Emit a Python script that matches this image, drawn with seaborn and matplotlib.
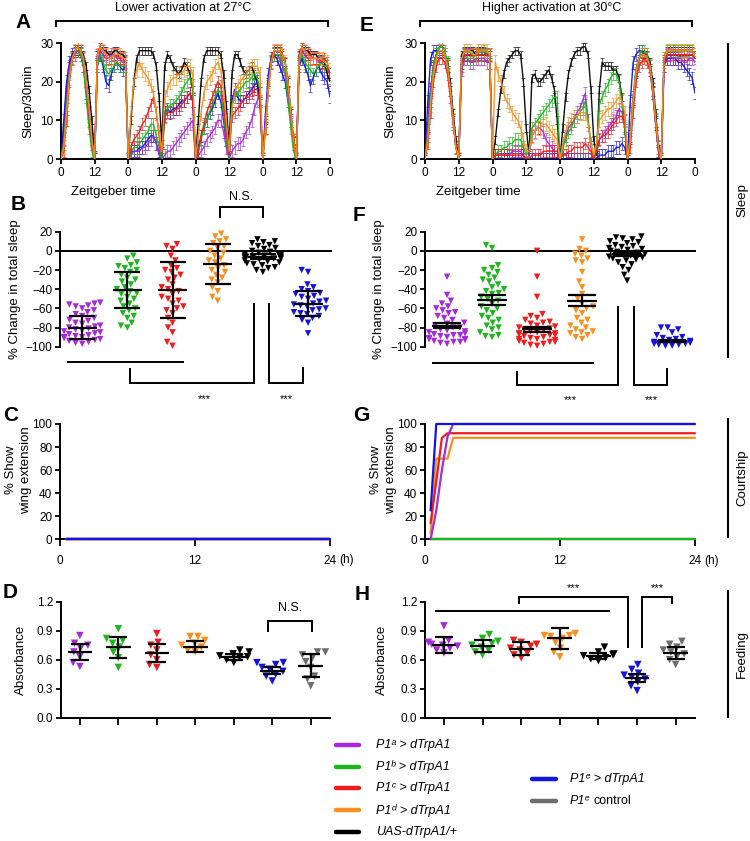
import matplotlib
matplotlib.use("Agg")
import numpy as np
import pandas as pd
import matplotlib.pyplot as plt
import seaborn as sns

# ------------------------------------------------------------------ data
GENOS = ["P1a", "P1b", "P1c", "P1d", "UAS", "P1e"]
FEED_GROUPS = ["P1a", "P1b", "P1c", "P1d", "UAS", "P1e", "ctrl"]
COLORS = {"P1a": "#A52ADC", "P1b": "#1FB51F", "P1c": "#EE1C1C", "P1d": "#F7901E",
          "UAS": "#000000", "P1e": "#1414DC", "ctrl": "#6D6D6D"}
DRAW_ORDER = ["UAS", "P1e", "P1a", "P1b", "P1c", "P1d"]

HOURS = list(range(97))
ZT_TICKS = [0, 12, 24, 36, 48, 60, 72, 84, 96]
ZT_LABELS = ["0", "12", "0", "12", "0", "12", "0", "12", "0"]

# Panel A: sleep per 30 min at 27 C (hourly readings)
A_UAS = [0, 8, 18, 24, 27, 28, 28, 28, 27, 24, 18, 10, 1, 27, 29, 28, 28, 27, 27, 28, 28, 27, 27, 26,
         0, 10, 20, 26, 28, 28, 28, 28, 28, 27, 24, 16, 4, 24, 27, 26, 24, 23, 22, 23, 25, 24, 22, 18,
         0, 10, 20, 26, 28, 28, 28, 28, 28, 27, 22, 14, 3, 22, 27, 27, 25, 23, 22, 23, 24, 22, 20, 15,
         0, 10, 20, 26, 28, 28, 28, 27, 25, 20, 12, 5, 0, 27, 29, 28, 28, 27, 27, 27, 26, 26, 25, 22, 20]
A_P1d = [0, 3, 12, 21, 26, 28, 29, 28, 26, 20, 13, 5, 0, 27, 29, 28, 27, 26, 26, 27, 27, 27, 26, 26,
         0, 12, 20, 23, 25, 23, 22, 21, 19, 17, 12, 7, 2, 16, 18, 20, 21, 21, 22, 22, 23, 24, 24, 22,
         0, 6, 12, 17, 20, 21, 22, 24, 25, 23, 18, 10, 2, 13, 17, 19, 20, 21, 22, 23, 24, 24, 24, 22,
         0, 8, 18, 25, 28, 28, 28, 27, 25, 20, 12, 5, 0, 26, 29, 28, 27, 26, 26, 26, 26, 26, 25, 25, 23]
A_P1c = [0, 2, 10, 20, 26, 28, 29, 28, 26, 20, 12, 5, 0, 27, 29, 28, 27, 26, 26, 27, 27, 26, 26, 25,
         0, 3, 5, 6, 7, 9, 10, 12, 14, 16, 12, 6, 1, 11, 12, 12, 12, 13, 13, 14, 15, 16, 17, 15,
         0, 2, 6, 9, 12, 14, 16, 18, 20, 19, 14, 7, 1, 11, 12, 13, 14, 15, 16, 16, 17, 18, 18, 15,
         0, 8, 18, 25, 28, 28, 28, 27, 25, 20, 12, 5, 0, 27, 29, 28, 27, 27, 26, 26, 26, 25, 26, 25, 21]
A_P1b = [0, 4, 14, 22, 26, 28, 28, 27, 24, 16, 8, 2, 0, 24, 27, 25, 23, 22, 23, 24, 25, 24, 24, 24,
         0, 2, 3, 3, 4, 5, 6, 7, 9, 9, 6, 3, 0, 11, 13, 14, 14, 15, 16, 17, 19, 20, 21, 19,
         0, 2, 5, 8, 10, 12, 14, 16, 18, 17, 12, 5, 0, 14, 16, 17, 18, 19, 20, 20, 21, 22, 21, 18,
         0, 8, 18, 25, 27, 27, 27, 25, 22, 15, 8, 2, 0, 25, 27, 25, 24, 23, 22, 23, 24, 25, 24, 24, 22]
A_P1e = [0, 10, 20, 25, 27, 28, 28, 27, 24, 17, 10, 4, 0, 24, 27, 24, 20, 19, 22, 24, 25, 24, 23, 24,
         0, 2, 2, 2, 3, 3, 4, 5, 6, 6, 4, 2, 0, 12, 13, 12, 13, 13, 14, 15, 15, 16, 17, 15,
         0, 3, 6, 8, 10, 12, 13, 15, 17, 15, 10, 5, 0, 15, 18, 16, 15, 15, 16, 17, 18, 19, 20, 17,
         0, 12, 22, 26, 27, 26, 24, 22, 20, 15, 10, 4, 0, 24, 26, 24, 22, 19, 21, 23, 24, 22, 21, 20, 16]
A_P1a = [0, 5, 16, 24, 26, 27, 28, 28, 26, 20, 12, 5, 0, 25, 28, 27, 26, 26, 27, 27, 26, 26, 25, 25,
         0, 1, 2, 2, 2, 3, 3, 4, 5, 6, 4, 1, 0, 1, 2, 2, 3, 4, 5, 6, 7, 8, 9, 10,
         0, 1, 2, 3, 5, 6, 7, 8, 10, 10, 7, 3, 0, 2, 3, 4, 4, 5, 7, 8, 10, 13, 15, 17,
         0, 10, 20, 25, 27, 27, 26, 24, 22, 17, 10, 4, 0, 26, 28, 27, 26, 26, 26, 26, 25, 25, 24, 24, 22]

# Panel E: sleep per 30 min at 30 C
E_UAS = [0, 8, 18, 24, 27, 28, 28, 27, 25, 20, 12, 5, 0, 27, 28, 28, 28, 28, 27, 28, 28, 28, 27, 27,
         0, 5, 12, 18, 22, 25, 26, 27, 28, 28, 27, 20, 8, 1, 21, 22, 20, 20, 21, 22, 23, 21, 18, 10,
         0, 8, 16, 22, 25, 27, 28, 28, 29, 29, 27, 18, 5, 1, 18, 25, 24, 24, 24, 23, 23, 21, 16, 8,
         0, 5, 15, 22, 26, 27, 27, 27, 25, 20, 12, 4, 0, 26, 28, 28, 28, 28, 28, 28, 28, 28, 28, 28, 27]
E_P1d = [0, 5, 14, 22, 26, 28, 28, 27, 24, 18, 10, 3, 0, 26, 28, 28, 28, 27, 27, 28, 28, 28, 28, 27,
         0, 25, 22, 20, 17, 15, 14, 12, 11, 10, 8, 5, 2, 2, 6, 7, 8, 8, 9, 9, 8, 7, 6, 5,
         0, 4, 7, 9, 10, 11, 11, 12, 12, 12, 9, 4, 1, 4, 10, 11, 12, 13, 13, 14, 15, 16, 15, 12,
         0, 5, 15, 22, 26, 27, 27, 26, 24, 18, 10, 3, 0, 26, 28, 28, 28, 28, 28, 28, 28, 28, 28, 28, 27]
E_P1c = [0, 4, 12, 20, 24, 26, 26, 25, 22, 16, 9, 3, 0, 24, 27, 27, 27, 27, 27, 27, 27, 27, 27, 27,
         0, 1, 1, 1, 1, 1, 1, 1, 1, 1, 1, 1, 0, 0, 1, 1, 1, 1, 2, 2, 2, 2, 2, 2,
         0, 1, 1, 2, 2, 3, 3, 3, 3, 4, 3, 2, 0, 2, 5, 6, 6, 7, 8, 9, 10, 11, 11, 10,
         0, 3, 12, 20, 24, 25, 26, 25, 23, 17, 9, 2, 0, 25, 27, 27, 27, 27, 27, 27, 27, 27, 27, 27, 26]
E_P1b = [0, 6, 16, 24, 27, 29, 29, 28, 25, 18, 10, 3, 0, 25, 27, 26, 26, 26, 27, 27, 27, 28, 27, 27,
         0, 1, 2, 2, 3, 3, 4, 4, 5, 5, 5, 3, 1, 2, 8, 9, 10, 11, 12, 13, 14, 15, 16, 16,
         0, 3, 5, 7, 8, 10, 11, 12, 13, 15, 10, 4, 0, 3, 14, 16, 18, 19, 21, 22, 22, 20, 15, 8,
         0, 6, 16, 23, 26, 28, 28, 27, 24, 18, 10, 3, 0, 26, 28, 28, 28, 28, 28, 28, 28, 28, 28, 28, 27]
E_P1e = [0, 15, 26, 28, 28, 28, 28, 27, 24, 18, 10, 3, 0, 25, 27, 27, 27, 27, 27, 27, 27, 27, 27, 27,
         0, 0, 0, 0, 0, 0, 0, 0, 0, 0, 0, 0, 0, 0, 0, 0, 0, 0, 0, 0, 0, 0, 0, 0,
         0, 0, 0, 0, 0, 0, 0, 0, 0, 0, 0, 0, 0, 0, 1, 1, 1, 2, 2, 2, 3, 3, 4, 3,
         0, 15, 25, 27, 28, 28, 27, 26, 23, 17, 9, 2, 0, 24, 26, 26, 26, 26, 25, 25, 24, 23, 22, 21, 17]
E_P1a = [0, 8, 18, 24, 27, 28, 28, 27, 24, 18, 10, 3, 0, 23, 26, 26, 25, 25, 26, 26, 26, 26, 25, 25,
         0, 1, 1, 1, 1, 1, 1, 2, 2, 2, 2, 1, 0, 1, 6, 7, 8, 8, 7, 5, 4, 3, 2, 2,
         0, 3, 6, 8, 9, 10, 12, 13, 15, 17, 10, 3, 0, 2, 5, 6, 7, 8, 9, 10, 11, 13, 12, 10,
         0, 6, 16, 23, 26, 27, 27, 26, 24, 18, 10, 3, 0, 24, 27, 27, 26, 26, 26, 26, 25, 25, 26, 26, 25]

SLEEP_SEM = {"UAS": 1.0, "P1a": 1.6, "P1b": 1.6, "P1c": 1.5, "P1d": 1.8, "P1e": 1.6}

# Panels B / F: % change in total sleep (individual flies)
B_P1a = [-54, -55, -56, -57, -58, -60, -62, -64, -66, -68, -70, -72, -73, -75, -76, -78, -79, -80,
         -81, -82, -83, -84, -85, -86, -87, -88, -89, -90, -90, -91, -92, -93, -94, -95, -96, -97]
B_P1b = [-5, -8, -12, -15, -16, -18, -20, -22, -25, -28, -30, -32, -35, -38, -40, -42, -44, -45,
         -48, -50, -52, -55, -58, -60, -62, -65, -68, -70, -75, -78, -80]
B_P1c = [7, 5, 2, -5, -10, -15, -18, -20, -22, -25, -28, -30, -35, -38, -40, -42, -45, -48, -50,
         -52, -55, -58, -60, -62, -65, -70, -75, -80, -85, -95, -99]
B_P1d = [18, 15, 12, 10, 8, 5, 3, 0, -2, -5, -8, -10, -12, -15, -18, -20, -22, -25, -28, -30,
         -33, -38, -42, -48, -52]
B_UAS = [12, 10, 9, 8, 6, 5, 3, 2, 0, -1, -2, -3, -4, -4, -5, -5, -6, -6, -7, -7, -8, -8, -9,
         -10, -11, -12, -13, -14, -15, -17, -18, -20, -22]
B_P1e = [-20, -22, -35, -38, -40, -42, -44, -45, -47, -48, -50, -52, -53, -55, -56, -57, -58,
         -60, -61, -62, -64, -65, -66, -68, -70, -72, -75, -86]
B_MEAN = [-80, -41, -41, -14, -6, -55]
B_SD = [12, 19, 29, 21, 3, 13]

F_P1a = [-27, -46, -52, -55, -58, -60, -62, -64, -65, -68, -70, -72, -75, -76, -78, -80, -80,
         -82, -83, -84, -85, -86, -87, -88, -88, -89, -90, -91, -92, -92, -93, -94, -95, -95, -96, -97]
F_P1b = [6, 3, -15, -18, -20, -22, -25, -28, -30, -32, -35, -38, -40, -42, -44, -45, -48, -50,
         -52, -55, -58, -60, -62, -65, -68, -70, -72, -75, -78, -80, -82, -85, -88, -89, -90]
F_P1c = [0, -27, -48, -66, -68, -70, -72, -74, -75, -76, -78, -79, -80, -81, -82, -83, -84, -85,
         -86, -86, -87, -88, -88, -89, -90, -91, -92, -92, -93, -94, -95, -95, -96, -97, -98, -99]
F_P1d = [12, 2, 0, -3, -5, -8, -10, -12, -22, -32, -38, -45, -50, -55, -58, -60, -62, -65, -70,
         -72, -75, -78, -80, -82, -84, -85, -86, -88, -90, -92]
F_UAS = [15, 14, 13, 12, 10, 9, 8, 6, 5, 4, 3, 2, 1, 0, -1, -2, -3, -4, -5, -6, -7, -8, -9,
         -10, -12, -14, -17, -20, -25, -31]
F_P1e = [-80, -80, -82, -85, -88, -90, -91, -92, -93, -94, -95, -95, -96, -96, -97, -97, -98,
         -98, -99, -99]
F_MEAN = [-78, -51, -82, -52, -3, -94]
F_SEM = [3, 5, 3, 6, 2, 1]

# Panels C / G: % showing wing extension
COURT_T = [0.5, 1, 1.5, 2, 2.5, 24]
C_P1a = [0, 0, 0, 0, 0, 0]
C_P1b = [0, 0, 0, 0, 0, 0]
C_P1c = [0, 0, 0, 0, 0, 0]
C_P1d = [0, 0, 0, 0, 0, 0]
C_UAS = [0, 0, 0, 0, 0, 0]
C_P1e = [0, 0, 0, 0, 0, 0]
G_P1a = [0, 25, 60, 89, 100, 100]
G_P1b = [0, 0, 0, 0, 0, 0]
G_P1c = [14, 50, 88, 92, 92, 92]
G_P1d = [5, 70, 70, 70, 88, 88]
G_UAS = [0, 0, 0, 0, 0, 0]
G_P1e = [25, 100, 100, 100, 100, 100]

# Panels D / H: feeding absorbance
D_P1a = [0.53, 0.57, 0.63, 0.68, 0.72, 0.75, 0.77, 0.85]
D_P1b = [0.52, 0.62, 0.68, 0.73, 0.77, 0.80, 0.82, 0.92]
D_P1c = [0.52, 0.55, 0.60, 0.65, 0.70, 0.75, 0.78, 0.87]
D_P1d = [0.68, 0.70, 0.73, 0.75, 0.77, 0.80, 0.84, 0.84]
D_UAS = [0.57, 0.60, 0.62, 0.63, 0.64, 0.66, 0.68, 0.70]
D_P1e = [0.38, 0.43, 0.45, 0.48, 0.50, 0.52, 0.55, 0.57, 0.57]
D_ctrl = [0.33, 0.40, 0.43, 0.52, 0.58, 0.62, 0.65, 0.68, 0.68]
D_MEAN = [0.68, 0.73, 0.67, 0.735, 0.625, 0.485, 0.54]
D_SD = [0.085, 0.11, 0.095, 0.055, 0.03, 0.035, 0.12]

H_P1a = [0.67, 0.70, 0.72, 0.74, 0.75, 0.76, 0.78, 0.80, 0.95]
H_P1b = [0.65, 0.68, 0.70, 0.73, 0.75, 0.77, 0.79, 0.82, 0.86]
H_P1c = [0.62, 0.65, 0.67, 0.70, 0.72, 0.74, 0.76, 0.78, 0.80]
H_P1d = [0.63, 0.68, 0.72, 0.78, 0.82, 0.84, 0.85, 0.85, 0.87]
H_UAS = [0.59, 0.61, 0.62, 0.64, 0.65, 0.66, 0.68, 0.73]
H_P1e = [0.28, 0.33, 0.37, 0.40, 0.42, 0.44, 0.46, 0.50, 0.55]
H_ctrl = [0.55, 0.60, 0.63, 0.66, 0.68, 0.70, 0.73, 0.76, 0.79]
H_MEAN = [0.75, 0.74, 0.715, 0.82, 0.64, 0.41, 0.67]
H_SD = [0.08, 0.06, 0.065, 0.11, 0.03, 0.04, 0.06]

# ------------------------------------------------------------------ style
sns.set_theme(style="ticks")
plt.rcParams["font.family"] = ["Liberation Sans", "DejaVu Sans"]
plt.rcParams["axes.edgecolor"] = "black"
plt.rcParams["xtick.color"] = "black"
plt.rcParams["ytick.color"] = "black"
plt.rcParams["text.color"] = "black"
plt.rcParams["axes.labelcolor"] = "black"

W, H = 750, 841
fig = plt.figure(figsize=(W / 100, H / 100), dpi=100)


def add_ax(l, t, r, b):
    return fig.add_axes([l / W, 1 - b / H, (r - l) / W, (b - t) / H])


def style(ax, bottom=True):
    sns.despine(ax=ax, bottom=not bottom)
    for s in ["left", "bottom"]:
        ax.spines[s].set_linewidth(1.4)
        ax.spines[s].set_color("black")
    ax.tick_params(axis="both", direction="out", length=3.5, width=1.3,
                   labelsize=8.5, pad=2, colors="black")
    ax.set_facecolor("none")


def long_df(series, xs, xname, yname):
    rows = []
    for g, vals in series.items():
        for x, v in zip(xs, vals):
            rows.append((g, x, v))
    return pd.DataFrame(rows, columns=["geno", xname, yname])


def sleep_panel(ax, series):
    df = long_df(series, HOURS, "hour", "sleep")
    for g in DRAW_ORDER:
        sub = df[df.geno == g]
        ax.errorbar(sub.hour, sub.sleep, yerr=SLEEP_SEM[g], fmt="none", ecolor=COLORS[g],
                    elinewidth=0.6, capsize=1.2, capthick=0.6, alpha=0.75, zorder=2)
        sns.lineplot(data=sub, x="hour", y="sleep", color=COLORS[g], lw=1.0,
                     errorbar=None, ax=ax, zorder=3, alpha=0.95)
    ax.set_xlim(0, 96)
    ax.set_ylim(0, 30)
    ax.set_xticks(ZT_TICKS)
    ax.set_xticklabels(ZT_LABELS)
    ax.set_yticks([0, 10, 20, 30])
    ax.set_xlabel("")
    ax.set_ylabel("Sleep/30min", fontsize=9.5)
    style(ax)


def swarm_panel(ax, series, order, mean, err, ylim, capsize, mhalf, size):
    rows = [(g, v) for g in order for v in series[g]]
    df = pd.DataFrame(rows, columns=["geno", "val"])
    ax.set_ylim(*ylim)
    sns.swarmplot(data=df, x="geno", y="val", order=order, hue="geno", hue_order=order,
                  palette=COLORS, marker="v", size=size, linewidth=0, legend=False,
                  ax=ax, clip_on=False, zorder=3, warn_thresh=1)
    xs = np.arange(len(order))
    ax.hlines(mean, xs - mhalf, xs + mhalf, color="black", lw=1.6, zorder=6)
    ax.errorbar(xs, mean, yerr=err, fmt="none", ecolor="black", elinewidth=1.6,
                capsize=capsize, capthick=1.6, zorder=6)
    ax.set_xlabel("")


def court_panel(ax, series):
    df = long_df(series, COURT_T, "t", "pct")
    for g in ["UAS", "P1b", "P1d", "P1c", "P1a", "P1e"]:
        sub = df[df.geno == g]
        sns.lineplot(data=sub, x="t", y="pct", color=COLORS[g], lw=1.6, errorbar=None,
                     ax=ax, clip_on=False, zorder=4)
    ax.set_xlim(0, 24)
    ax.set_ylim(0, 100)
    ax.set_xticks([0, 12, 24])
    ax.set_xticklabels(["0", "12", "24"])
    ax.set_yticks([0, 20, 40, 60, 80, 100])
    ax.set_xlabel("")
    ax.set_ylabel("% Show\nwing extension", fontsize=9.5, linespacing=1.35)
    style(ax)
    ax.tick_params(axis="x", length=5, pad=6)


# ------------------------------------------------------------------ panels A / E
axA = add_ax(61, 43, 330, 159)
sleep_panel(axA, {"P1a": A_P1a, "P1b": A_P1b, "P1c": A_P1c, "P1d": A_P1d, "UAS": A_UAS, "P1e": A_P1e})
axA.yaxis.set_label_coords(-0.10, 0.5)
axE = add_ax(425, 43, 695, 159)
sleep_panel(axE, {"P1a": E_P1a, "P1b": E_P1b, "P1c": E_P1c, "P1d": E_P1d, "UAS": E_UAS, "P1e": E_P1e})
axE.yaxis.set_label_coords(-0.104, 0.5)

# ------------------------------------------------------------------ panels B / F
for (l, r, series, mean, err, cap, mh, lab_x) in [
        (60, 332, {"P1a": B_P1a, "P1b": B_P1b, "P1c": B_P1c, "P1d": B_P1d, "UAS": B_UAS, "P1e": B_P1e},
         B_MEAN, B_SD, 9.5, 0.32, -0.143),
        (425, 696, {"P1a": F_P1a, "P1b": F_P1b, "P1c": F_P1c, "P1d": F_P1d, "UAS": F_UAS, "P1e": F_P1e},
         F_MEAN, F_SEM, 10, 0.34, -0.148)]:
    ax = add_ax(l, 231.7, r, 346.7)
    swarm_panel(ax, series, GENOS, mean, err, (-100, 20), cap, mh, 4.6)
    ax.axhline(0, color="black", lw=1.4, zorder=1)
    ax.set_xlim(-0.49, 5.53)
    ax.set_yticks([20, 0, -20, -40, -60, -80, -100])
    ax.set_xticks([])
    ax.set_ylabel("% Change in total sleep", fontsize=9.5)
    style(ax, bottom=False)
    ax.yaxis.set_label_coords(lab_x, 0.5)

# ------------------------------------------------------------------ panels C / G
axC = add_ax(60, 424, 330, 539.3)
court_panel(axC, {"P1a": C_P1a, "P1b": C_P1b, "P1c": C_P1c, "P1d": C_P1d, "UAS": C_UAS, "P1e": C_P1e})
axC.yaxis.set_label_coords(-0.104, 0.6)
axG = add_ax(425, 424, 695, 539.3)
court_panel(axG, {"P1a": G_P1a, "P1b": G_P1b, "P1c": G_P1c, "P1d": G_P1d, "UAS": G_UAS, "P1e": G_P1e})
axG.yaxis.set_label_coords(-0.104, 0.6)

# ------------------------------------------------------------------ panels D / H
for (l, r, series, mean, err, lab_x) in [
        (61, 330, {"P1a": D_P1a, "P1b": D_P1b, "P1c": D_P1c, "P1d": D_P1d, "UAS": D_UAS,
                   "P1e": D_P1e, "ctrl": D_ctrl}, D_MEAN, D_SD, -0.126),
        (425, 695, {"P1a": H_P1a, "P1b": H_P1b, "P1c": H_P1c, "P1d": H_P1d, "UAS": H_UAS,
                    "P1e": H_P1e, "ctrl": H_ctrl}, H_MEAN, H_SD, -0.137)]:
    ax = add_ax(l, 601.7, r, 717.7)
    swarm_panel(ax, series, FEED_GROUPS, mean, err, (0, 1.2), 6.5, 0.32, 5.4)
    ax.set_xlim(-0.49, 6.5)
    ax.set_yticks([0.0, 0.3, 0.6, 0.9, 1.2])
    ax.set_yticklabels(["0.0", "0.3", "0.6", "0.9", "1.2"])
    ax.set_xticks(range(len(FEED_GROUPS)))
    ax.set_xticklabels([])
    ax.set_ylabel("Absorbance", fontsize=9.5)
    style(ax)
    ax.tick_params(axis="x", length=5)
    ax.yaxis.set_label_coords(lab_x, 0.5)

# ------------------------------------------------------------------ overlay (annotations)
ov = fig.add_axes([0, 0, 1, 1], zorder=20)
ov.set_xlim(0, W)
ov.set_ylim(H, 0)
ov.axis("off")


def path(pts, lw=1.4):
    xs, ys = zip(*pts)
    ov.plot(xs, ys, color="black", lw=lw, solid_capstyle="butt", solid_joinstyle="miter")


def txt(x, y, s, size=9, **kw):
    ov.text(x, y, s, fontsize=size, ha=kw.pop("ha", "center"), va=kw.pop("va", "center"), **kw)


# titles with brackets
txt(183, 8, "Lower activation at 27°C", 9)
path([(56, 27), (56, 20.7), (328, 20.7), (328, 27)])
txt(552, 8, "Higher activation at 30°C", 9)
path([(420, 27), (420, 20.7), (692, 20.7), (692, 27)])
txt(113, 192, "Zeitgeber time", 9.5)
txt(478, 192, "Zeitgeber time", 9.5)

# panel letters
for letter, x, y in [("A", 23.5, 22.5), ("E", 367, 25), ("B", 18.5, 204), ("F", 359, 215.5),
                     ("C", 11, 415.5), ("G", 361, 415), ("D", 10, 592), ("H", 362, 594)]:
    txt(x, y, letter, 15, fontweight="bold")

# B annotations
path([(220, 218), (220, 207), (263, 207), (263, 218)])
txt(241, 197, "N.S.", 9)
path([(67, 362), (184, 362)])
path([(130, 368), (130, 383), (254, 383), (254, 303)])
path([(269, 303), (269, 383), (303, 383), (303, 367)])
txt(204, 399, "***", 8)
txt(286, 399, "***", 8)

# F annotations
path([(432, 362.7), (594, 362.7)])
path([(517, 371), (517, 385), (618, 385), (618, 306)])
path([(634, 306), (634, 385), (667, 385), (667, 368)])
txt(570, 400, "***", 8)
txt(651, 400, "***", 8)

# D annotations
path([(268, 632), (268, 620.7), (312, 620.7), (312, 632)])
txt(290, 608, "N.S.", 9)

# H annotations
path([(435, 610.7), (610, 610.7)])
path([(519, 604), (519, 596.7), (628, 596.7), (628, 648.3)])
path([(642, 648.3), (642, 596.7), (672, 596.7), (672, 604)])
txt(573, 588, "***", 8)
txt(657, 588, "***", 8)

# "(h)" units on courtship axes
txt(347, 559.5, "(h)", 8.5)
txt(712, 561, "(h)", 8.5)

# side category labels
path([(728, 43), (728, 358)], lw=1.5)
txt(742, 200, "Sleep", 9.5, rotation=90)
path([(728, 418), (728, 538)], lw=1.5)
txt(742, 478, "Courtship", 9.5, rotation=90)
path([(728, 590), (728, 718)], lw=1.5)
txt(742, 654, "Feeding", 9.5, rotation=90)

# legend
LEG_LEFT = [("P1a", "P1ᵃ > dTrpA1"), ("P1b", "P1ᵇ > dTrpA1"), ("P1c", "P1ᶜ > dTrpA1"),
            ("P1d", "P1ᵈ > dTrpA1"), ("UAS", "UAS-dTrpA1/+")]
for i, (g, lab) in enumerate(LEG_LEFT):
    y = 745 + i * 21.7
    ov.plot([336, 359], [y, y], color=COLORS[g], lw=3.2, solid_capstyle="round")
    txt(376, y, lab, 9, ha="left", fontstyle="italic")
ov.plot([532, 556], [779, 779], color=COLORS["P1e"], lw=3.2, solid_capstyle="round")
txt(570, 779, "P1ᵉ > dTrpA1", 9, ha="left", fontstyle="italic")
ov.plot([532, 556], [801, 801], color=COLORS["ctrl"], lw=3.2, solid_capstyle="round")
txt(570, 801, "P1ᵉ", 9, ha="left", fontstyle="italic")
txt(594, 801, "control", 9, ha="left")

fig.savefig("out.png", dpi=100)
